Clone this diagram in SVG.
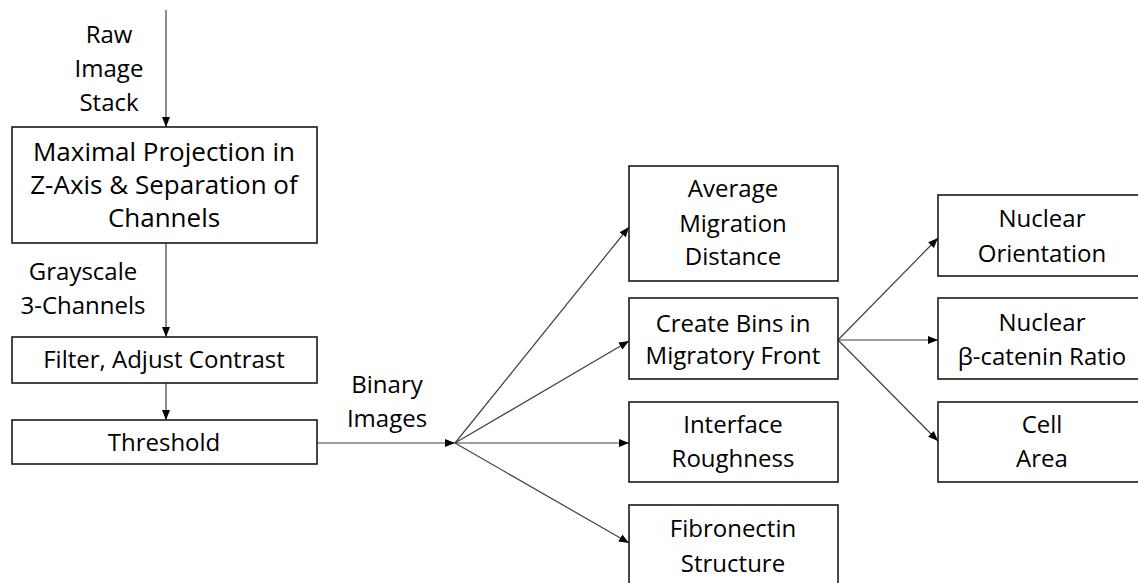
<svg xmlns="http://www.w3.org/2000/svg" width="1138" height="583" viewBox="0 0 1138 583">
<style>
text{font-family:"Open Sans","Liberation Sans",sans-serif;font-size:24px;fill:#000;text-anchor:middle}
.big{font-size:26px}
.box{fill:#fff;stroke:#1a1a1a;stroke-width:1.6}
.ln{fill:none;stroke:#404040;stroke-width:1.2}
</style>
<defs>
<marker id="ah" viewBox="0 0 10 10" refX="10" refY="5" markerWidth="10" markerHeight="10" markerUnits="userSpaceOnUse" orient="auto">
<path d="M0,1 L10,5 L0,9 Z" fill="#000"/>
</marker>
</defs>
<rect width="1138" height="583" fill="#fff"/>
<g id="connectors">
<line class="ln" x1="166" y1="10" x2="166" y2="127" marker-end="url(#ah)"/>
<line class="ln" x1="166" y1="243" x2="166" y2="337" marker-end="url(#ah)"/>
<line class="ln" x1="166" y1="383" x2="166" y2="420" marker-end="url(#ah)"/>
<line class="ln" x1="317" y1="443" x2="455" y2="443" marker-end="url(#ah)"/>
<line class="ln" x1="455" y1="443" x2="629" y2="227" marker-end="url(#ah)"/>
<line class="ln" x1="455" y1="443" x2="629" y2="341" marker-end="url(#ah)"/>
<line class="ln" x1="455" y1="443" x2="629" y2="443" marker-end="url(#ah)"/>
<line class="ln" x1="455" y1="443" x2="629" y2="543" marker-end="url(#ah)"/>
<line class="ln" x1="838" y1="340" x2="938" y2="238" marker-end="url(#ah)"/>
<line class="ln" x1="838" y1="340" x2="938" y2="340" marker-end="url(#ah)"/>
<line class="ln" x1="838" y1="340" x2="938" y2="441" marker-end="url(#ah)"/>
</g>
<g id="label-raw">
<text x="109" y="43">Raw</text>
<text x="109" y="77">Image</text>
<text x="109" y="111">Stack</text>
</g>
<g id="label-gray">
<text x="83" y="280">Grayscale</text>
<text x="83" y="314">3-Channels</text>
</g>
<g id="label-binary">
<text x="387" y="393">Binary</text>
<text x="387" y="427">Images</text>
</g>
<g id="n-projection">
<rect class="box" x="12" y="127" width="305" height="116"/>
<text class="big" x="164" y="161">Maximal Projection in</text>
<text class="big" x="164" y="194">Z-Axis &amp; Separation of</text>
<text class="big" x="164" y="227">Channels</text>
</g>
<g id="n-filter">
<rect class="box" x="12" y="337" width="305" height="46"/>
<text x="164" y="368">Filter, Adjust Contrast</text>
</g>
<g id="n-threshold">
<rect class="box" x="12" y="420" width="305" height="44"/>
<text x="164" y="451">Threshold</text>
</g>
<g id="n-amd">
<rect class="box" x="629" y="166" width="209" height="115"/>
<text x="733" y="197">Average</text>
<text x="733" y="232">Migration</text>
<text x="733" y="265">Distance</text>
</g>
<g id="n-bins">
<rect class="box" x="629" y="298" width="209" height="81"/>
<text x="733" y="332">Create Bins in</text>
<text x="733" y="364">Migratory Front</text>
</g>
<g id="n-interface">
<rect class="box" x="629" y="402" width="209" height="80"/>
<text x="733" y="433">Interface</text>
<text x="733" y="467">Roughness</text>
</g>
<g id="n-fibronectin">
<rect class="box" x="629" y="505" width="209" height="90"/>
<text x="733" y="537">Fibronectin</text>
<text x="733" y="572">Structure</text>
</g>
<g id="n-orientation">
<rect class="box" x="938" y="195" width="210" height="81"/>
<text x="1042" y="227">Nuclear</text>
<text x="1042" y="262">Orientation</text>
</g>
<g id="n-catenin">
<rect class="box" x="938" y="298" width="210" height="81"/>
<text x="1042" y="331">Nuclear</text>
<text x="1042" y="365">β-catenin Ratio</text>
</g>
<g id="n-cellarea">
<rect class="box" x="938" y="402" width="210" height="80"/>
<text x="1042" y="433">Cell</text>
<text x="1042" y="467">Area</text>
</g>
</svg>
